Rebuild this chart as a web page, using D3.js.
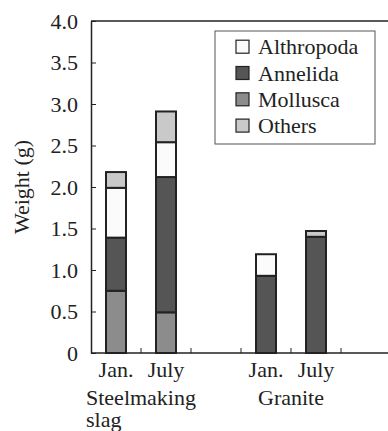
<!DOCTYPE html>
<html>
<head>
<meta charset="utf-8">
<script src="https://cdn.jsdelivr.net/npm/d3@7"></script>
<style>
  body { margin: 0; background: #fff; }
</style>
</head>
<body>
<div class="canva"></div>
<script>
// data
const slots = ["slagJan", "slagJuly", "gapA", "graniteJan", "graniteJuly", "gapB"];
const barSlots = ["slagJan", "slagJuly", "graniteJan", "graniteJuly"];
const months = ["Jan.", "July", "Jan.", "July"];
const sites = [["Steelmaking", "slag"], ["Granite"]];
const siteSlots = [["slagJan", "slagJuly"], ["graniteJan", "graniteJuly"]];
const mollusca   = [0.75, 0.49, 0, 0];
const annelida   = [0.64, 1.63, 0.93, 1.40];
const althropoda = [0.60, 0.42, 0.26, 0];
const others     = [0.19, 0.37, 0, 0.07];
const yTicks = [0, 0.5, 1.0, 1.5, 2.0, 2.5, 3.0, 3.5, 4.0];
const legendNames = ["Althropoda", "Annelida", "Mollusca", "Others"];

const FONT = "'Liberation Serif', 'Times New Roman', Times, 'DejaVu Serif', serif";

const svg = d3.select(".canva").append("svg")
  .attr("width", 388)
  .attr("height", 431)
  .attr("font-family", FONT);

const margin = {top: 21, left: 91, bottom: 78};
const plotH = 431 - margin.top - margin.bottom;

const x = d3.scaleBand().domain(slots).range([margin.left, margin.left + 300]).padding(0);
const y = d3.scaleLinear().domain([0, 4]).range([margin.top + plotH, margin.top]);

const colors = d3.scaleOrdinal()
  .domain(["Mollusca", "Annelida", "Althropoda", "Others"])
  .range(["#8c8c8c", "#555555", "#fbfbfb", "#c9c9c9"]);

// table for the stack
const rows = barSlots.map((s, i) => ({
  slot: s,
  Mollusca: mollusca[i],
  Annelida: annelida[i],
  Althropoda: althropoda[i],
  Others: others[i]
}));
const stacked = d3.stack().keys(["Mollusca", "Annelida", "Althropoda", "Others"])(rows);

const barW = x.bandwidth() * 0.4;

svg.append("g").selectAll("g")
  .data(stacked)
  .enter().append("g")
  .attr("fill", d => colors(d.key))
  .selectAll("rect")
  .data(d => d.filter(p => p[1] - p[0] > 0))
  .enter().append("rect")
  .attr("x", d => x(d.data.slot) + (x.bandwidth() - barW) / 2)
  .attr("y", d => y(d[1]))
  .attr("width", barW)
  .attr("height", d => y(d[0]) - y(d[1]))
  .attr("stroke", "#222")
  .attr("stroke-width", 2);

// y axis
const yAxis = d3.axisLeft(y)
  .tickValues(yTicks)
  .tickFormat(d => d === 0 ? "0" : d.toFixed(1))
  .tickSizeInner(-5)
  .tickSizeOuter(0)
  .tickPadding(13);

const yg = svg.append("g")
  .attr("transform", `translate(${margin.left},0)`)
  .call(yAxis)
  .attr("font-family", FONT)
  .attr("font-size", 22);
yg.select(".domain").attr("stroke", "#222").attr("stroke-width", 1.5);
yg.selectAll(".tick line").attr("stroke", "#222");
yg.selectAll(".tick text").attr("fill", "#222");

// top frame line
svg.append("line")
  .attr("x1", margin.left).attr("x2", 388)
  .attr("y1", y(4)).attr("y2", y(4))
  .attr("stroke", "#222").attr("stroke-width", 1.5);

// x axis baseline and slot ticks
svg.append("line")
  .attr("x1", margin.left).attr("x2", 388)
  .attr("y1", y(0)).attr("y2", y(0))
  .attr("stroke", "#222").attr("stroke-width", 1.5);

svg.append("g").selectAll("line")
  .data(slots.slice(1))
  .enter().append("line")
  .attr("x1", d => x(d)).attr("x2", d => x(d))
  .attr("y1", y(0)).attr("y2", y(0) - 5)
  .attr("stroke", "#222");

// month labels
svg.append("g").selectAll("text")
  .data(barSlots)
  .enter().append("text")
  .attr("x", d => x(d) + x.bandwidth() / 2)
  .attr("y", y(0) + 24)
  .attr("text-anchor", "middle")
  .attr("font-size", 22)
  .attr("fill", "#222")
  .text((d, i) => months[i]);

// site labels (left aligned block, centred on group)
sites.forEach((lines, i) => {
  const cx = (x(siteSlots[i][0]) + x(siteSlots[i][1]) + x.bandwidth()) / 2;
  const t = svg.append("text").attr("font-size", 22).attr("fill", "#222");
  lines.forEach((ln, j) => {
    t.append("tspan").attr("y", y(0) + 52 + j * 22).text(ln);
  });
  const w = d3.max(t.selectAll("tspan").nodes(), n => n.getComputedTextLength());
  t.selectAll("tspan").attr("x", cx - w / 2);
});

// y label
svg.append("text")
  .attr("transform", "rotate(-90)")
  .attr("x", -(margin.top + plotH / 2))
  .attr("y", 29)
  .attr("text-anchor", "middle")
  .attr("font-size", 22)
  .attr("fill", "#222")
  .text("Weight (g)");

// legend
const lg = svg.append("g").attr("transform", "translate(215,31)");
lg.append("rect")
  .attr("width", 160).attr("height", 113)
  .attr("fill", "#fff")
  .attr("stroke", "#555").attr("stroke-width", 1);

const item = lg.selectAll(".item")
  .data(legendNames)
  .enter().append("g")
  .attr("transform", (d, i) => `translate(21,${15.7 + i * 26.3})`);
item.append("rect")
  .attr("x", 0).attr("y", -6.5)
  .attr("width", 13).attr("height", 13)
  .attr("fill", d => colors(d))
  .attr("stroke", "#222").attr("stroke-width", 1.2);
item.append("text")
  .attr("x", 22).attr("y", 7.5)
  .attr("font-size", 22)
  .attr("fill", "#222")
  .text(d => d);
</script>
</body>
</html>
